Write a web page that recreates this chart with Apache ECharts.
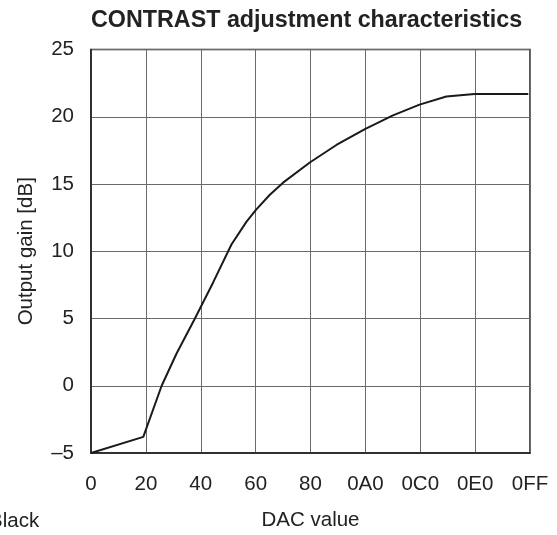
<!DOCTYPE html>
<html><head><meta charset="utf-8">
<script src="https://cdn.jsdelivr.net/npm/echarts@6/dist/echarts.min.js"></script>
<style>html,body{margin:0;padding:0;background:#fff}#c{width:557px;height:535px}</style>
</head><body><div id="c"></div>
<script>
var dacValues = [0, 30.5, 41.2, 49.9, 60.6, 71.3, 81.9, 90.7, 96.3, 104.3, 112, 127.6, 143.1, 160, 176.1, 191.6, 207.2, 223.7, 255];
var gainValues = [-5, -3.8, 0, 2.4, 5.0, 7.7, 10.5, 12.2, 13.1, 14.2, 15.1, 16.6, 17.9, 19.1, 20.1, 20.9, 21.5, 21.7, 21.7];
var xTickLabels = ['0', '20', '40', '60', '80', '0A0', '0C0', '0E0', '0FF'];

var FONT = '"Liberation Sans", Arial, sans-serif';
var chart = echarts.init(document.getElementById('c'));
var pts = dacValues.map(function (x, i) { return [x, gainValues[i]]; });
chart.setOption({
  animation: false,
  title: { text: 'CONTRAST adjustment characteristics', left: 86, top: 4,
    textStyle: { fontFamily: FONT, fontWeight: 'bold', fontSize: 23.3, color: '#222' } },
  graphic: [
    { type: 'text', left: -11, top: 511, style: { text: 'Black', font: '20.5px ' + FONT, fill: '#222' } }
  ],
  grid: { left: 91, right: 27, top: 49.5, bottom: 82, outerBoundsMode: 'none', containLabel: false,
    show: true, borderColor: '#222', borderWidth: 1.5, backgroundColor: 'transparent' },
  xAxis: { type: 'value', min: 0, max: 256, interval: 32,
    name: 'DAC value', nameLocation: 'middle', nameGap: 57,
    nameTextStyle: { fontFamily: FONT, fontSize: 20.5, color: '#222' },
    axisLine: { show: true, onZero: false, lineStyle: { color: '#222', width: 1.5 } },
    axisTick: { show: false },
    axisLabel: { fontFamily: FONT, fontSize: 20.5, color: '#222', margin: 21,
      formatter: function (v) { return xTickLabels[Math.round(v / 32)]; } },
    splitLine: { show: true, lineStyle: { color: '#6a6a6a', width: 1 } } },
  yAxis: { type: 'value', min: -5, max: 25, interval: 5,
    name: 'Output gain [dB]', nameLocation: 'middle', nameGap: 54, nameRotate: 90,
    nameTextStyle: { fontFamily: FONT, fontSize: 20.5, color: '#222' },
    axisLine: { show: true, onZero: false, lineStyle: { color: '#222', width: 1.5 } },
    axisTick: { show: false },
    axisLabel: { fontFamily: FONT, fontSize: 20.5, color: '#222', margin: 17,
      formatter: function (v) { return String(v).replace('-', '\u2013'); } },
    splitLine: { show: true, lineStyle: { color: '#6a6a6a', width: 1 } } },
  series: [{ type: 'line', data: pts, smooth: false, symbol: 'none',
    lineStyle: { color: '#1a1a1a', width: 2 } }]
});
</script></body></html>
